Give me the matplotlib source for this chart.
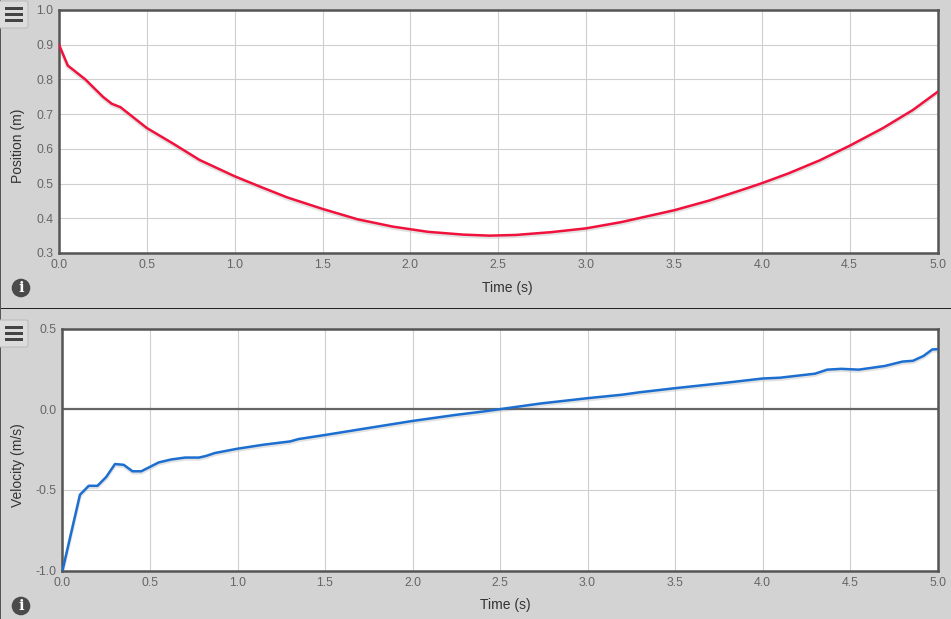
"""Position and velocity graphs from a motion simulation panel."""

import matplotlib
matplotlib.use('Agg')
import matplotlib.pyplot as plt
from matplotlib.patches import Circle, FancyBboxPatch, Rectangle

W, H = 951, 619
BG = '#d3d3d3'
FRAME = '#555555'
GRID = '#cfcfcf'

pos_t = [0.0, 0.05, 0.15, 0.25, 0.3, 0.35, 0.5, 0.65, 0.8, 1.0, 1.15, 1.3, 1.5, 1.7, 1.9, 2.1, 2.3, 2.45,
         2.6, 2.8, 3.0, 3.2, 3.5, 3.7, 3.9, 4.0, 4.15, 4.33, 4.5, 4.69, 4.86, 5.0]
pos_m = [0.9, 0.84, 0.80, 0.75, 0.73, 0.72, 0.66, 0.615, 0.568, 0.521, 0.49, 0.46, 0.427, 0.397, 0.376, 0.361, 0.353, 0.35,
         0.352, 0.36, 0.371, 0.389, 0.423, 0.451, 0.484, 0.501, 0.529, 0.567, 0.609, 0.66, 0.712, 0.764]

vel_t = [0.0, 0.1, 0.15, 0.2, 0.25, 0.3, 0.35, 0.4, 0.45, 0.55, 0.62, 0.7, 0.78, 0.82, 0.87, 1.0, 1.15, 1.3, 1.35,
         1.5, 1.7, 2.0, 2.25, 2.4, 2.5, 2.73, 3.0, 3.2, 3.3, 3.5, 3.8, 4.0, 4.1, 4.3, 4.37, 4.45, 4.55, 4.7,
         4.8, 4.86, 4.92, 4.97, 5.0]
vel_v = [-1.0, -0.53, -0.475, -0.475, -0.42, -0.34, -0.345, -0.385, -0.385, -0.33, -0.312, -0.30, -0.30, -0.29,
         -0.272, -0.245, -0.22, -0.20, -0.185, -0.16, -0.125, -0.073, -0.035, -0.015, 0.0, 0.035, 0.068, 0.09,
         0.105, 0.13, 0.165, 0.19, 0.195, 0.22, 0.245, 0.25, 0.245, 0.268, 0.295, 0.30, 0.33, 0.37, 0.372]

x_ticks = [0.0, 0.5, 1.0, 1.5, 2.0, 2.5, 3.0, 3.5, 4.0, 4.5, 5.0]
pos_ticks = [0.3, 0.4, 0.5, 0.6, 0.7, 0.8, 0.9, 1.0]
vel_ticks = [-1.0, -0.5, 0.0, 0.5]


def make_axes(fig, left, right, top, bottom):
    """Axes placed by pixel edges of the picture."""
    return fig.add_axes([left / W, 1 - bottom / H, (right - left) / W, (bottom - top) / H])


def draw_graph(ax, t, values, color, y_ticks, y_lim, ylabel, label_x, label_y, xlabel_x):
    ax.set_facecolor('white')
    ax.set_xlim(0, 5)
    ax.set_ylim(*y_lim)
    ax.set_xticks(x_ticks)
    ax.set_yticks(y_ticks)
    ax.set_xticklabels([f'{v:.1f}' for v in x_ticks])
    ax.set_yticklabels([f'{v:.1f}' for v in y_ticks])
    ax.grid(True, color=GRID, linewidth=0.8)
    ax.set_axisbelow(True)
    ax.tick_params(length=0, labelsize=8.8, labelcolor='#666666', pad=4)
    ax.tick_params(axis='x', pad=4.5)
    for spine in ax.spines.values():
        spine.set_color(FRAME)
        spine.set_linewidth(1.8)
    # soft shadow under the curve
    ax.plot(t, [v - (y_lim[1] - y_lim[0]) * 0.006 for v in values], color='#b8b8b8', linewidth=2.6, alpha=0.4,
            solid_joinstyle='round', zorder=2)
    ax.plot(t, values, color=color, linewidth=1.8, solid_joinstyle='round', zorder=3)
    ax.set_xlabel('Time (s)', fontsize=10, color='#333333')
    ax.xaxis.set_label_coords(xlabel_x, -0.115)
    ax.set_ylabel(ylabel, fontsize=10, color='#333333')
    ax.yaxis.set_label_coords(label_x, label_y)


def draw_controls(overlay, menu_top, info_y):
    """Menu button and info badge, in picture pixels."""
    overlay.add_patch(FancyBboxPatch((-3, menu_top), 31, 27, boxstyle='round,pad=0,rounding_size=2',
                                     facecolor='#dcdcdc', edgecolor='#bcbcbc', linewidth=0.8))
    for dy in (6, 12, 18):
        overlay.add_patch(Rectangle((5, menu_top + dy), 18, 3.2, facecolor='#444444', edgecolor='none'))
    overlay.add_patch(Circle((21, info_y), 9.3, facecolor='#4a4a4a', edgecolor='none'))
    overlay.text(21, info_y, 'i', color='white', fontsize=10.5, fontweight='bold', family='DejaVu Serif',
                 ha='center', va='center')


plt.rcParams['font.family'] = ['Liberation Sans', 'DejaVu Sans']
fig = plt.figure(figsize=(W / 100, H / 100), dpi=100, facecolor=BG)

ax_pos = make_axes(fig, 59, 937.5, 10, 253)
draw_graph(ax_pos, pos_t, pos_m, '#f0123c', pos_ticks, (0.3, 1.0), 'Position (m)', -0.039, 0.442, 0.51)

ax_vel = make_axes(fig, 62.5, 937.5, 328.5, 570.5)
draw_graph(ax_vel, vel_t, vel_v, '#1c6fd0', vel_ticks, (-1.0, 0.5), 'Velocity (m/s)', -0.043, 0.434, 0.506)
ax_vel.axhline(0, color='#666666', linewidth=1.6, zorder=2.5)

overlay = fig.add_axes([0, 0, 1, 1], zorder=5)
overlay.set_xlim(0, W)
overlay.set_ylim(H, 0)
overlay.axis('off')
overlay.add_patch(Rectangle((0, 307.5), W, 1.2, facecolor='#222222', edgecolor='none'))
overlay.add_patch(Rectangle((0, 0), 1, H, facecolor='#555555', edgecolor='none'))
draw_controls(overlay, 1, 288)
draw_controls(overlay, 320, 606)

fig.savefig('out.png', dpi=100, facecolor=BG)
